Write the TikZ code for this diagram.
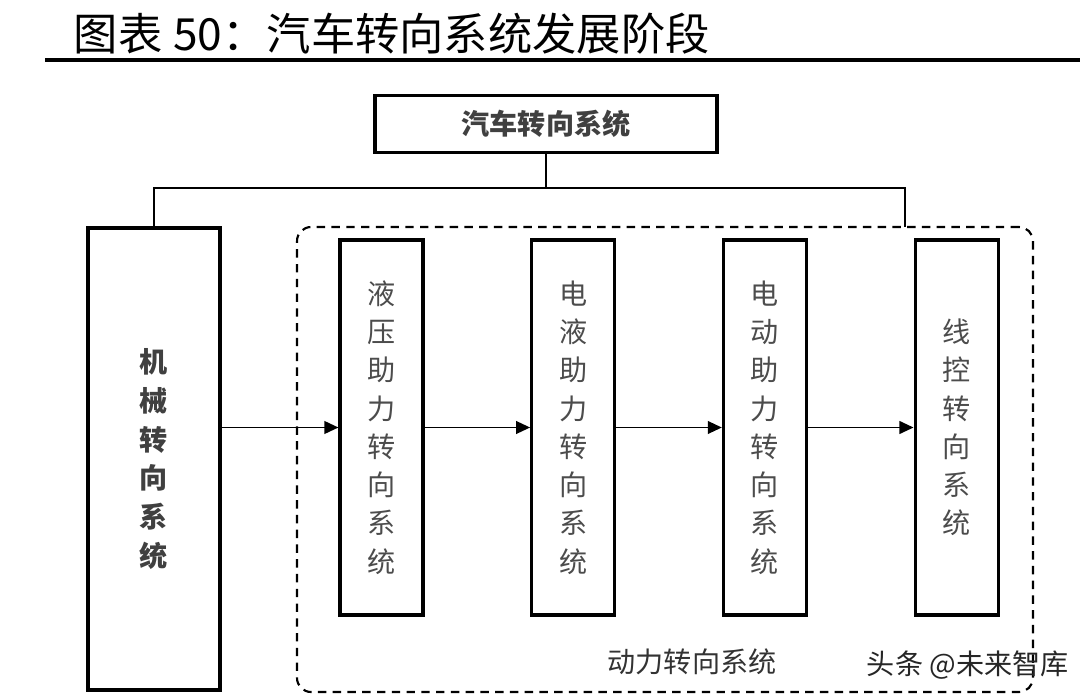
\documentclass[tikz,border=0pt]{standalone}
\usepackage{fontspec}
\newfontfamily\cjk{Noto Sans CJK SC}
\usepackage{tikz}
\usetikzlibrary{positioning,arrows.meta}

\begin{document}
\begin{tikzpicture}[
  box/.style={draw, line width=2.2pt, inner sep=0pt, font=\cjk\bfseries\fontsize{20}{27}\selectfont, text=black!75},
  stage/.style={draw, line width=2.2pt, minimum width=2.075cm, minimum height=9.375cm, inner sep=0pt, align=center, font=\cjk\fontsize{20}{27.2}\selectfont, text=black!70},
  grp/.style={draw, dashed, dash pattern=on 6pt off 4.5pt, line width=1.5pt, rounded corners=10pt, minimum width=18.4cm, minimum height=11.625cm},
  link/.style={line width=2pt},
  arr/.style={-{Triangle[length=10pt,width=9pt]}, line width=1.4pt},
  lab/.style={font=\cjk\fontsize{20}{24}\selectfont, text=black!80}
]
  \useasboundingbox (0,0) rectangle (27,-17.475);

  % title and rule
  \node[anchor=west, font=\cjk\fontsize{31.5}{31.5}\selectfont] (title) at (1.72,-0.83) {图表\hspace{0.25em}50：汽车转向系统发展阶段};
  \draw[line width=3.5pt] (1.125,-1.5) -- (27,-1.5);

  \node[box, minimum width=8.55cm, minimum height=1.425cm] (top) at (13.65,-3.09) {汽车转向系统};
  \node[box, minimum width=3.3cm, minimum height=11.55cm, align=center, font=\cjk\bfseries\fontsize{20}{27.5}\selectfont] (mech) at (3.85,-11.475)
    {机\\械\\转\\向\\系\\统};
  \node[grp] (grp) at (16.625,-11.4875) {};

  \node[stage] (s1) at (9.5375,-10.6875) {液\\压\\助\\力\\转\\向\\系\\统};
  \node[stage, right=2.64cm of s1] (s2) {电\\液\\助\\力\\转\\向\\系\\统};
  \node[stage, right=2.64cm of s2] (s3) {电\\动\\助\\力\\转\\向\\系\\统};
  \node[stage, right=2.64cm of s3] (s4) {线\\控\\转\\向\\系\\统};

  \node[lab] (grpname) at (17.3,-16.54) {动力转向系统};
  \node[lab, anchor=west, text=black!85] (mark) at (21.55,-16.62) {头条 @未来智库};

  \coordinate (bus) at (13.65,-4.7);
  \coordinate (hook) at (22.625,-5.675);

  \draw[link] (top.south) -- (bus);
  \draw[link] (mech.north) |- (bus) -| (hook);

  \draw[arr] (mech.east |- s1.west) -- (s1.west);
  \draw[arr] (s1) -- (s2);
  \draw[arr] (s2) -- (s3);
  \draw[arr] (s3) -- (s4);
\end{tikzpicture}
\end{document}
